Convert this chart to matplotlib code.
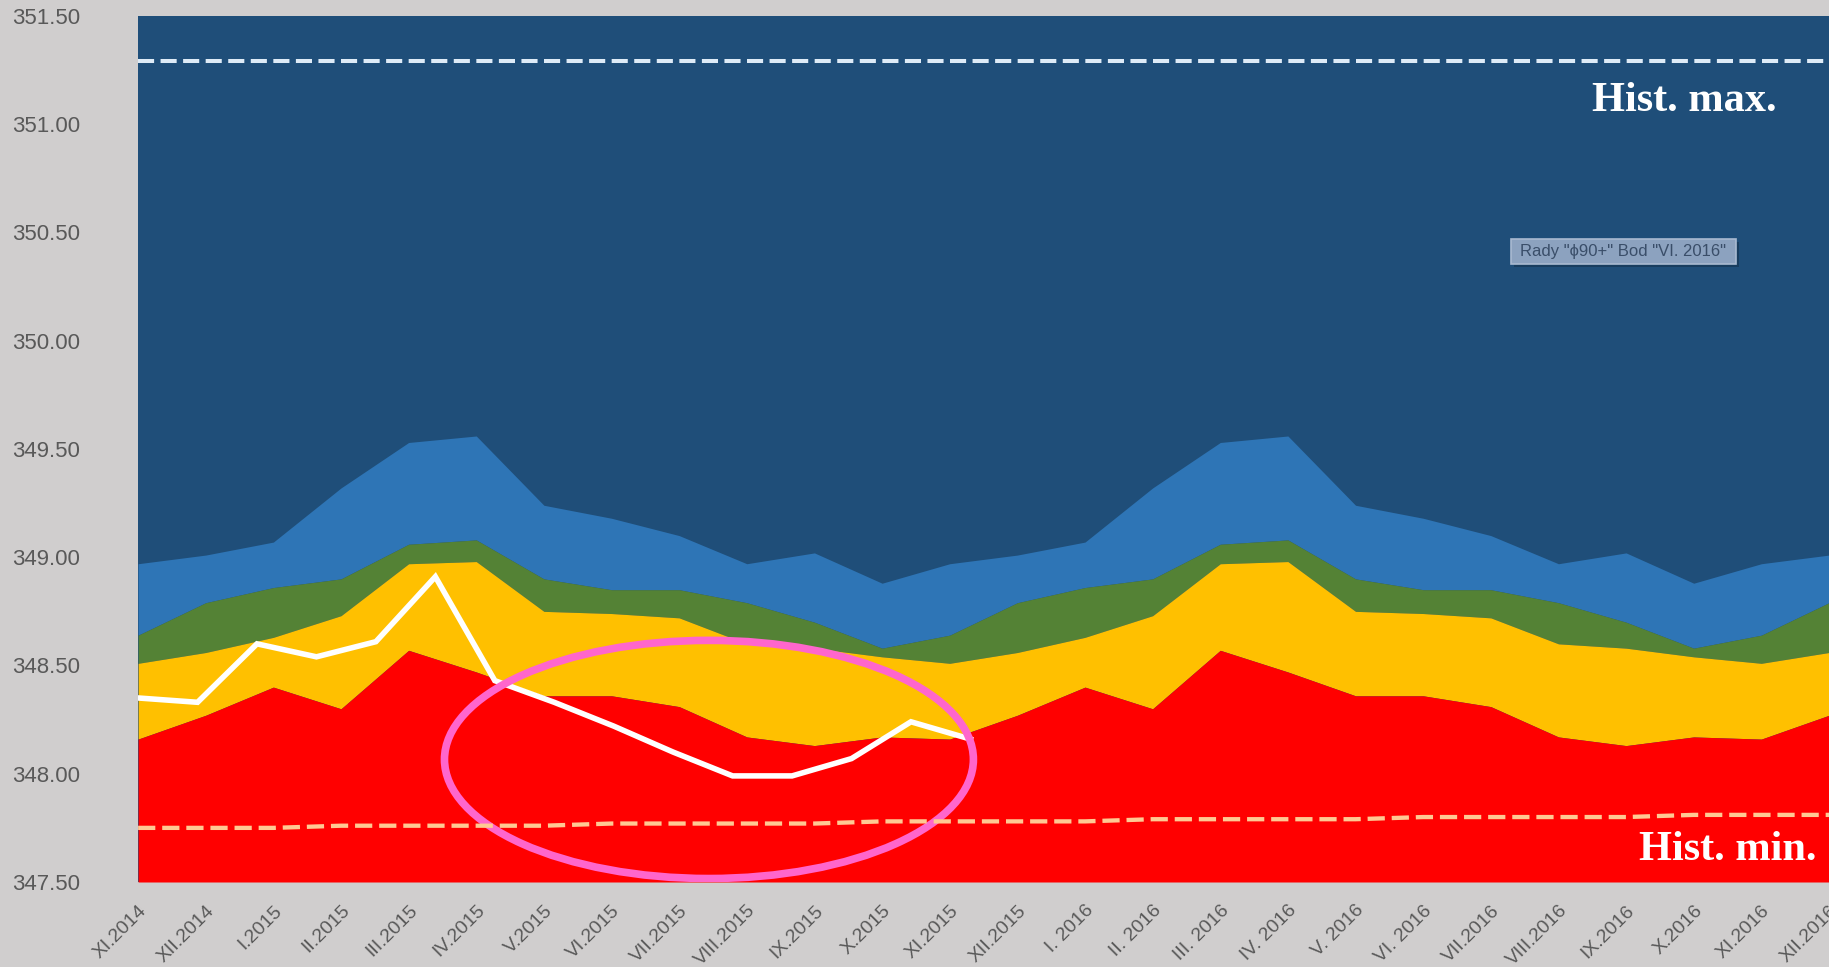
import matplotlib
matplotlib.use("Agg")
import matplotlib.pyplot as plt
import matplotlib.transforms as mtransforms
from matplotlib.patches import Ellipse, Rectangle

# categories (months)
months = ["XI.2014", "XII.2014", "I.2015", "II.2015", "III.2015", "IV.2015",
          "V.2015", "VI.2015", "VII.2015", "VIII.2015", "IX.2015", "X.2015",
          "XI.2015", "XII.2015", "I. 2016", "II. 2016", "III. 2016", "IV. 2016",
          "V. 2016", "VI. 2016", "VII.2016", "VIII.2016", "IX.2016", "X.2016",
          "XI.2016", "XII.2016"]

# upper edge of each stacked band (water level, m a.s.l.)
red_top = [348.16, 348.27, 348.40, 348.30, 348.57, 348.47, 348.36, 348.36, 348.31,
           348.17, 348.13, 348.17, 348.16, 348.27, 348.40, 348.30, 348.57, 348.47,
           348.36, 348.36, 348.31, 348.17, 348.13, 348.17, 348.16, 348.27]
yellow_top = [348.51, 348.56, 348.63, 348.73, 348.97, 348.98, 348.75, 348.74, 348.72,
              348.60, 348.58, 348.54, 348.51, 348.56, 348.63, 348.73, 348.97, 348.98,
              348.75, 348.74, 348.72, 348.60, 348.58, 348.54, 348.51, 348.56]
green_top = [348.64, 348.79, 348.86, 348.90, 349.06, 349.08, 348.90, 348.85, 348.85,
             348.79, 348.70, 348.58, 348.64, 348.79, 348.86, 348.90, 349.06, 349.08,
             348.90, 348.85, 348.85, 348.79, 348.70, 348.58, 348.64, 348.79]
blue_top = [348.97, 349.01, 349.07, 349.32, 349.53, 349.56, 349.24, 349.18, 349.10,
            348.97, 349.02, 348.88, 348.97, 349.01, 349.07, 349.32, 349.53, 349.56,
            349.24, 349.18, 349.10, 348.97, 349.02, 348.88, 348.97, 349.01]

hist_max = 351.29
hist_min = [347.75, 347.75, 347.75, 347.76, 347.76, 347.76, 347.76, 347.77, 347.77,
            347.77, 347.77, 347.78, 347.78, 347.78, 347.78, 347.79, 347.79, 347.79,
            347.79, 347.80, 347.80, 347.80, 347.80, 347.81, 347.81, 347.81]

# measured series (own, denser category axis)
measured = [348.35, 348.33, 348.60, 348.54, 348.61, 348.91, 348.43, 348.33,
            348.22, 348.10, 347.99, 347.99, 348.07, 348.24, 348.16]
measured_step = 0.879

ymin, ymax = 347.5, 351.5
bg = "#D0CECE"

fig = plt.figure(figsize=(18.29, 9.67), dpi=100, facecolor=bg)
ax = fig.add_axes([0.0755, 0.0879, 0.9245, 0.8956])
ax.set_facecolor("#1F4E79")

x = list(range(len(months)))
base = [ymin] * len(x)
top = [ymax] * len(x)
ax.fill_between(x, blue_top, top, color="#1F4E79", lw=0)
ax.fill_between(x, green_top, blue_top, color="#2E75B6", lw=0)
ax.fill_between(x, yellow_top, green_top, color="#548235", lw=0)
ax.fill_between(x, red_top, yellow_top, color="#FFC000", lw=0)
ax.fill_between(x, base, red_top, color="#FF0000", lw=0)

xm = [i * measured_step for i in range(len(measured))]
ax.plot(xm, measured, color="white", lw=4, solid_joinstyle="miter", zorder=4)

ell = Ellipse((8.44, 348.066), 7.82, 1.10, fill=False, edgecolor="#FF66CC", lw=5.5, zorder=5)
ax.add_patch(ell)

ax.plot(x, [hist_max] * len(x), color="#DEEBF7", lw=2.9, dashes=(4, 1.6), zorder=6)
ax.plot(x, hist_min, color="#FFC993", lw=3.1, dashes=(4, 1.6), zorder=6)

ax.text(0.9693, 0.8903, "Hist. max.", transform=ax.transAxes, ha="right", va="baseline",
        color="white", fontsize=30.5, fontweight="bold", family="Liberation Serif", zorder=7)
ax.text(0.9929, 0.0254, "Hist. min.", transform=ax.transAxes, ha="right", va="baseline",
        color="white", fontsize=30.5, fontweight="bold", family="Liberation Serif", zorder=7)

ax.set_xlim(0, len(x) - 1)
ax.set_ylim(ymin, ymax)
ax.set_yticks([347.5 + 0.5 * k for k in range(9)])
ax.set_yticklabels([f"{347.5 + 0.5 * k:.2f}" for k in range(9)])
ax.set_xticks(x)
ax.set_xticklabels(months, rotation=45, ha="right", va="center", rotation_mode="anchor")
ax.tick_params(axis="y", length=0, pad=42, labelsize=16, labelcolor="#595959")
ax.tick_params(axis="x", length=0, pad=0, labelsize=14, labelcolor="#595959")
for lab in ax.get_yticklabels() + ax.get_xticklabels():
    lab.set_family("Liberation Sans")
offset = mtransforms.ScaledTranslation(6 / 100, -26 / 100, fig.dpi_scale_trans)
for lab in ax.get_xticklabels():
    lab.set_transform(lab.get_transform() + offset)
for s in ax.spines.values():
    s.set_visible(False)

# data label box
W, H = 1829, 967
bx0, by0, bw, bh = 1511, 239, 225, 25
fig.patches.append(Rectangle(((bx0 + 3) / W, 1 - (by0 + bh + 3) / H), bw / W, bh / H,
                             transform=fig.transFigure, facecolor="#14324F", alpha=0.6,
                             edgecolor="none", zorder=8))
fig.patches.append(Rectangle((bx0 / W, 1 - (by0 + bh) / H), bw / W, bh / H,
                             transform=fig.transFigure, facecolor="#8CA2BF",
                             edgecolor="#A9BAD1", lw=1.2, zorder=9))
fig.text((bx0 + bw / 2) / W, 1 - (by0 + bh / 2) / H, 'Rady "\u03d590+" Bod "VI. 2016"',
         ha="center", va="center", fontsize=12, color="#3A4E69",
         family=["Liberation Sans", "DejaVu Sans"], zorder=10)

fig.savefig("out.png", dpi=100, facecolor=bg)
